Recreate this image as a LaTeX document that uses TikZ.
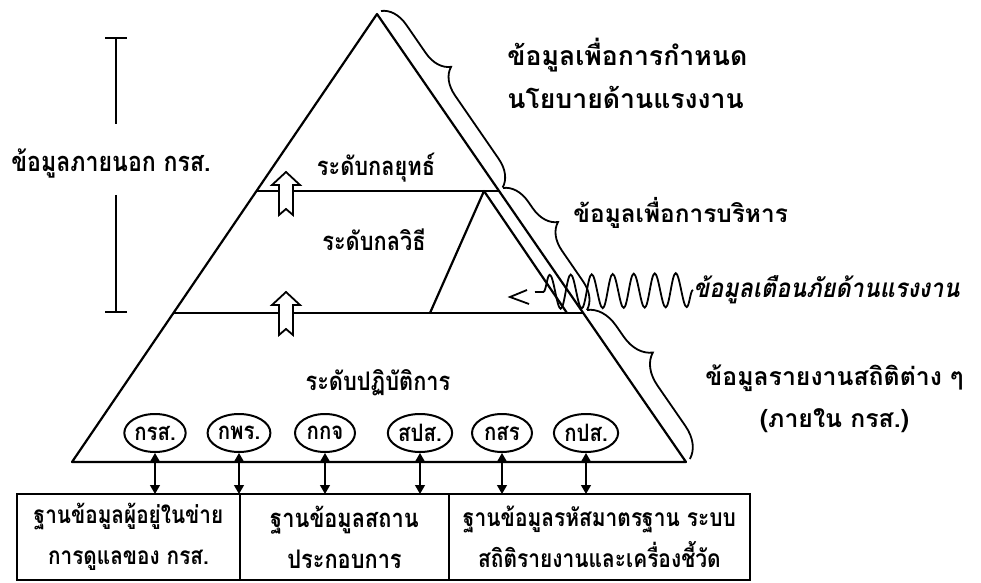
\documentclass[tikz,border=0pt]{standalone}
\usepackage{fontspec}
\newfontfamily\thaifont[Script=Thai]{Loma}
\newfontfamily\thainarrow[Script=Thai,FakeStretch=0.85]{Loma}
\newfontfamily\thaiwarn[Script=Thai,FakeStretch=0.9]{Loma}
\usepackage{tikz}
\usetikzlibrary{positioning,arrows.meta,calc,shapes.geometric,decorations.pathmorphing,decorations.pathreplacing}

\begin{document}
\begin{tikzpicture}[
  x=0.5pt, y=-0.5pt,
  node distance=0pt,
  every node/.style={font=\thainarrow\bfseries\fontsize{12.8}{20.5}\selectfont, inner sep=0pt},
  edge/.style={line width=1.1pt, line join=round},
  sidelabel/.style={anchor=west, align=left, font=\thaifont\bfseries\fontsize{13}{21.5}\selectfont},
  unit/.style={draw, ellipse, line width=1pt, minimum width=30pt, minimum height=19pt, inner sep=0.5pt, font=\thainarrow\bfseries\fontsize{12}{14}\selectfont},
  dbbox/.style={draw, line width=0.9pt, align=center, minimum height=43pt, outer sep=0pt},
  linkarrow/.style={{Triangle[length=4.5pt,width=5pt]}-{Triangle[length=4.5pt,width=5pt]}, line width=0.6pt},
  levelbrace/.style={decorate, decoration={brace, amplitude=13pt, aspect=0.4}, line width=0.9pt},
  wave/.style={decorate, decoration={snake, amplitude=8.5pt, segment length=10.5pt}, line width=0.9pt},
  endbar/.style={-{Bar[width=11pt]}, line width=1pt},
  uparrow/.style={draw, fill=white, line width=0.9pt, line join=miter}
]
\useasboundingbox (0,0) rectangle (981,583);

% pyramid
\coordinate (apex) at (377,14);
\coordinate (bl) at (72,462);
\coordinate (br) at (686,462);
\draw[edge] (apex) -- (bl) -- (br) -- cycle;
\draw[edge] ($(apex)!0.395!(bl)$) -- ($(apex)!0.395!(br)$);
\draw[edge] ($(apex)!0.6674!(bl)$) -- ($(apex)!0.6674!(br)$);

% small triangle in the middle level
\coordinate (ia) at (484,191);
\coordinate (ib) at (430,313);
\coordinate (ic) at (567,313);
\draw[edge] (ib) -- (ia) -- (ic);

\node (strat) at (376,168) {ระดับกลยุทธ์};
\node (tact) at (374,240) {ระดับกลวิธี};
\node (oper) at (378,383) {ระดับปฏิบัติการ};

% hollow arrows between levels
\coordinate (ua1) at (286,172);
\coordinate (ua2) at (286,292);
\draw[uparrow] (ua1) -- ++(14,13) -- ++(-7,0) -- ++(0,30) -- ++(-7,-6) -- ++(-7,6) -- ++(0,-30) -- ++(-7,0) -- cycle;
\draw[uparrow] (ua2) -- ++(14,13) -- ++(-7,0) -- ++(0,30) -- ++(-7,-6) -- ++(-7,6) -- ++(0,-30) -- ++(-7,0) -- cycle;

% units
\node[unit] (e1) at (155,433) {กรส.};
\node[unit] (e2) at (239,433) {กพร.};
\node[unit] (e3) at (325,433) {กกจ};
\node[unit] (e4) at (420,433) {สปส.};
\node[unit] (e5) at (502,433) {กสร};
\node[unit] (e6) at (586,433) {กปส.};

% databases
\node[dbbox, minimum width=111.5pt, font=\thainarrow\bfseries\fontsize{12.2}{20.5}\selectfont] (b1) at (128.5,537) {ฐานข้อมูลผู้อยู่ในข่าย\\การดูแลของ กรส.};
\node[dbbox, minimum width=104.5pt, right=of b1] (b2) {ฐานข้อมูลสถาน\\ประกอบการ};
\node[dbbox, minimum width=150.5pt, right=of b2, font=\thainarrow\bfseries\fontsize{12.3}{20.5}\selectfont] (b3) {ฐานข้อมูลรหัสมาตรฐาน ระบบ\\สถิติรายงานและเครื่องชี้วัด};

\draw[linkarrow] (e1.south) -- (e1.south |- b1.north);
\draw[linkarrow] (e2.south) -- (e2.south |- b1.north);
\draw[linkarrow] (e3.south) -- (e3.south |- b2.north);
\draw[linkarrow] (e4.south) -- (e4.south |- b2.north);
\draw[linkarrow] (e5.south) -- (e5.south |- b3.north);
\draw[linkarrow] (e6.south) -- (e6.south |- b3.north);

% outside data
\node[font=\thainarrow\bfseries\fontsize{13.6}{20.5}\selectfont] (ext) at (111,163) {ข้อมูลภายนอก กรส.};
\coordinate (xtop) at (116,37);
\coordinate (xup) at (116,124);
\coordinate (xdn) at (116,195);
\coordinate (xbot) at (116,313);
\draw[endbar] (xup) -- (xtop);
\draw[endbar] (xdn) -- (xbot);

% braces on the right side
\coordinate (k0) at (381,11);
\coordinate (k1) at (503,188);
\coordinate (k2) at (587,310);
\coordinate (k3) at (690,459);
\draw[levelbrace] (k0) -- (k1);
\draw[levelbrace] (k1) -- (k2);
\draw[levelbrace, decoration={amplitude=15pt}] (k2) -- (k3);

\node[sidelabel, font=\thaifont\bfseries\fontsize{13.3}{21.5}\selectfont] (pol) at (507,73) {ข้อมูลเพื่อการกำหนด\\นโยบายด้านแรงงาน};
\node[sidelabel, font=\thaifont\bfseries\fontsize{12.2}{21.5}\selectfont] (mgmt) at (573,213) {ข้อมูลเพื่อการบริหาร};
\node[sidelabel, align=center, font=\thaifont\bfseries\fontsize{12.4}{21}\selectfont] (stat) at (705,399) {ข้อมูลรายงานสถิติต่าง ๆ\\(ภายใน กรส.)};

% warning signal
\node[sidelabel, font=\thaiwarn\bfseries\itshape\fontsize{13}{20.5}\selectfont] (warn) at (693,290) {ข้อมูลเตือนภัยด้านแรงงาน};
\coordinate (wend) at (535,292);
\coordinate (wtip) at (510,297);
\draw[wave] (warn.west) -- (wend);
\draw[line width=0.9pt] ([shift={(17,-7)}]wtip) -- (wtip) -- ([shift={(19,7)}]wtip);
\end{tikzpicture}
\end{document}
